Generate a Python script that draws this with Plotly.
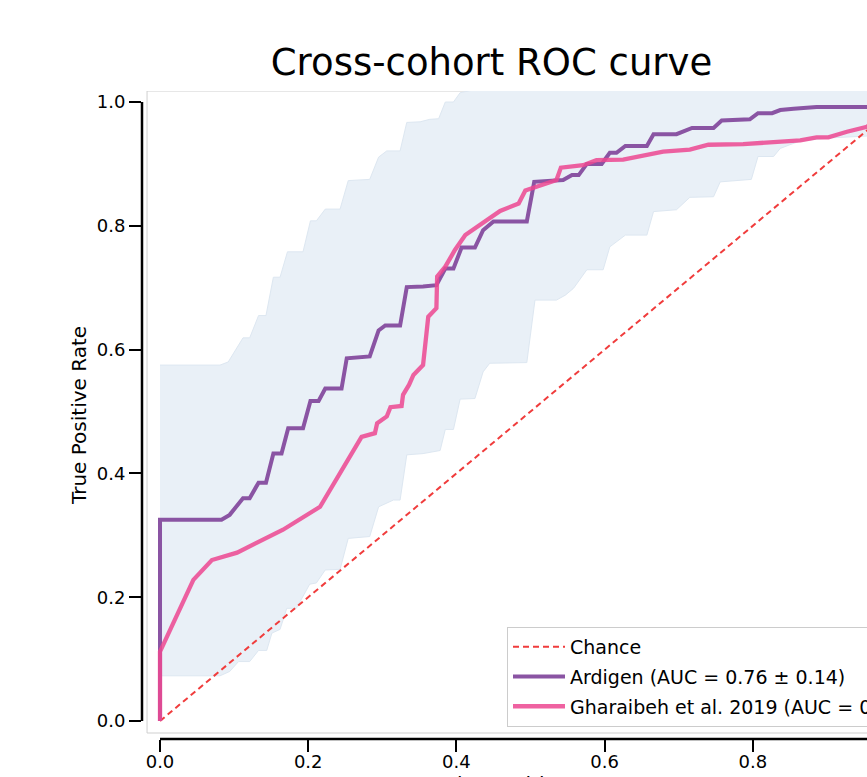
import plotly.graph_objects as go

# ---------------- data ----------------
chance_x = [0.0, 1.0]
chance_y = [0.0, 1.0]

ard_fpr = [0, 0, 0.083, 0.094, 0.112, 0.121, 0.133, 0.143, 0.153, 0.164,
           0.173, 0.193, 0.203, 0.214, 0.223, 0.245, 0.252, 0.283, 0.295, 0.304,
           0.324, 0.333, 0.355, 0.373, 0.385, 0.396, 0.407, 0.425, 0.436, 0.450,
           0.495, 0.505, 0.544, 0.556, 0.565, 0.576, 0.596, 0.607, 0.616, 0.628,
           0.657, 0.666, 0.697, 0.718, 0.747, 0.758, 0.796, 0.807, 0.826, 0.837,
           0.855, 0.886, 0.954, 1.0]
ard_tpr = [0, 0.325, 0.325, 0.333, 0.360, 0.360, 0.385, 0.385, 0.432, 0.432,
           0.473, 0.473, 0.517, 0.517, 0.537, 0.537, 0.586, 0.589, 0.631, 0.639,
           0.639, 0.701, 0.702, 0.704, 0.731, 0.731, 0.765, 0.765, 0.793, 0.807,
           0.807, 0.871, 0.874, 0.882, 0.882, 0.900, 0.900, 0.918, 0.918, 0.929,
           0.929, 0.948, 0.948, 0.958, 0.958, 0.970, 0.972, 0.982, 0.982, 0.987,
           0.989, 0.992, 0.992, 1.0]

band_hi_x = [0, 0.081, 0.092, 0.112, 0.121, 0.133, 0.143, 0.153, 0.162, 0.172,
             0.193, 0.203, 0.211, 0.223, 0.243, 0.254, 0.283, 0.295, 0.306, 0.324,
             0.333, 0.351, 0.364, 0.376, 0.385, 0.396, 0.405, 0.425, 0.436, 1.0]
band_hi_y = [0.575, 0.575, 0.580, 0.619, 0.619, 0.655, 0.655, 0.717, 0.717, 0.758,
             0.758, 0.808, 0.808, 0.827, 0.827, 0.873, 0.875, 0.911, 0.921, 0.921,
             0.967, 0.968, 0.972, 0.973, 1.000, 1.000, 1.015, 1.020, 1.050, 1.050]

band_lo_x = [0, 0.081, 0.094, 0.106, 0.121, 0.133, 0.144, 0.151, 0.162, 0.171,
             0.184, 0.202, 0.211, 0.223, 0.243, 0.254, 0.283, 0.295, 0.315, 0.324,
             0.333, 0.355, 0.378, 0.385, 0.396, 0.405, 0.425, 0.436, 0.445, 0.495,
             0.506, 0.535, 0.547, 0.558, 0.576, 0.598, 0.607, 0.628, 0.657, 0.666,
             0.697, 0.715, 0.747, 0.756, 0.798, 0.807, 0.828, 0.837, 0.850, 0.864,
             0.904, 0.954, 1.0]
band_lo_y = [0.073, 0.073, 0.080, 0.096, 0.096, 0.114, 0.114, 0.142, 0.148, 0.182,
             0.182, 0.221, 0.223, 0.244, 0.245, 0.295, 0.298, 0.346, 0.357, 0.357,
             0.430, 0.432, 0.437, 0.471, 0.471, 0.520, 0.521, 0.564, 0.578, 0.579,
             0.680, 0.680, 0.688, 0.699, 0.729, 0.729, 0.766, 0.785, 0.785, 0.823,
             0.826, 0.846, 0.847, 0.871, 0.875, 0.912, 0.912, 0.925, 0.931, 0.937,
             0.942, 0.945, 0.950]

gh_fpr = [0, 0, 0.045, 0.070, 0.104, 0.166, 0.216, 0.272, 0.290, 0.293,
          0.306, 0.311, 0.326, 0.328, 0.336, 0.342, 0.355, 0.358, 0.362, 0.373,
          0.374, 0.385, 0.398, 0.412, 0.439, 0.459, 0.484, 0.493, 0.535, 0.541,
          0.571, 0.589, 0.625, 0.679, 0.715, 0.740, 0.787, 0.837, 0.864, 0.886,
          0.902, 0.927, 0.954, 1.0]
gh_tpr = [0, 0.112, 0.228, 0.260, 0.272, 0.309, 0.346, 0.459, 0.465, 0.481,
          0.492, 0.507, 0.509, 0.527, 0.543, 0.559, 0.575, 0.616, 0.653, 0.667,
          0.718, 0.734, 0.761, 0.785, 0.807, 0.824, 0.836, 0.857, 0.874, 0.894,
          0.898, 0.906, 0.907, 0.920, 0.923, 0.931, 0.932, 0.937, 0.938, 0.943,
          0.943, 0.952, 0.960, 1.0]

tick_vals = [0.0, 0.2, 0.4, 0.6, 0.8, 1.0]
tick_text = ["0.0", "0.2", "0.4", "0.6", "0.8", "1.0"]

name_chance = "Chance"
name_ard = "Ardigen (AUC = 0.76 ± 0.14)"
name_gh = "Gharaibeh et al. 2019 (AUC = 0.70)"
title_text = "Cross-cohort ROC curve"
x_title = "False Positive Rate"
y_title = "True Positive Rate"

# ---------------- styling ----------------
FONT = "DejaVu Sans"
PURPLE = "rgb(138,84,163)"
PINK = "rgba(236,72,146,0.86)"
RED = "rgb(240,60,60)"
BAND_FILL = "rgb(233,240,247)"
BAND_EDGE = "rgb(221,231,241)"

W, H = 983, 820
ML, MR, MT, MB = 142, 69, 91, 81
XR = [-0.0243, 1.0175]
YR = [-0.0291, 1.0178]

fig = go.Figure()

# std band (upper edge, then lower edge filled to it)
fig.add_trace(go.Scatter(x=band_hi_x, y=band_hi_y, mode="lines",
                         line=dict(color=BAND_EDGE, width=1),
                         showlegend=False, hoverinfo="skip"))
fig.add_trace(go.Scatter(x=band_lo_x, y=band_lo_y, mode="lines",
                         line=dict(color=BAND_EDGE, width=1),
                         fill="tonexty", fillcolor=BAND_FILL,
                         showlegend=False, hoverinfo="skip"))

fig.add_trace(go.Scatter(x=chance_x, y=chance_y, mode="lines", name=name_chance,
                         line=dict(color=RED, width=2, dash="6px,4px"),
                         legendgroup="a"))
fig.add_trace(go.Scatter(x=ard_fpr, y=ard_tpr, mode="lines", name=name_ard,
                         line=dict(color=PURPLE, width=4),
                         legendgroup="b"))
fig.add_trace(go.Scatter(x=gh_fpr, y=gh_tpr, mode="lines", name=name_gh,
                         line=dict(color=PINK, width=4.3),
                         legendgroup="c"))

# light grey axes frame
fig.add_shape(type="rect", xref="x", yref="y",
              x0=-0.0175, x1=XR[1], y0=-0.0194, y1=YR[1],
              line=dict(color="#cfcfcf", width=1), layer="below")
# offset, trimmed spines
fig.add_shape(type="line", xref="paper", yref="y", x0=0, x1=0, y0=0, y1=1,
              line=dict(color="black", width=2.5))
fig.add_shape(type="line", xref="x", yref="paper", x0=0, x1=1, y0=0, y1=0,
              line=dict(color="black", width=2.5))

axis_common = dict(
    showgrid=False, zeroline=False, showline=False, automargin=False,
    ticks="outside", ticklen=12, tickwidth=2, tickcolor="black",
    tickvals=tick_vals, ticktext=tick_text,
    tickfont=dict(family=FONT, size=18, color="black"),
)

fig.update_xaxes(range=XR, ticklabelstandoff=-6,
                 title=dict(text=x_title, standoff=6,
                            font=dict(family=FONT, size=20, color="black")),
                 **axis_common)
fig.update_yaxes(range=YR,
                 title=dict(text=y_title, standoff=4,
                            font=dict(family=FONT, size=20, color="black")),
                 **axis_common)

fig.update_layout(
    width=W, height=H,
    margin=dict(l=ML, r=MR, t=MT, b=MB, pad=0),
    plot_bgcolor="white", paper_bgcolor="white",
    font=dict(family=FONT, color="black"),
    title=dict(text=title_text, x=0.5, xref="container", xanchor="center",
               y=1 - 62 / H, yref="container", yanchor="middle",
               font=dict(family=FONT, size=37, color="black")),
    legend=dict(x=0.4728, y=0.0185, xanchor="left", yanchor="bottom",
                bgcolor="rgba(255,255,255,0.9)", bordercolor="#cccccc",
                borderwidth=1, font=dict(family=FONT, size=19, color="black"),
                tracegroupgap=2, itemwidth=52),
    showlegend=True,
)

fig.write_html(
    "out.html",
    config={"displayModeBar": False},
    post_script=("document.body.style.margin='0';"
                 "document.body.style.overflow='hidden';"
                 "document.documentElement.style.overflow='hidden';"),
)
